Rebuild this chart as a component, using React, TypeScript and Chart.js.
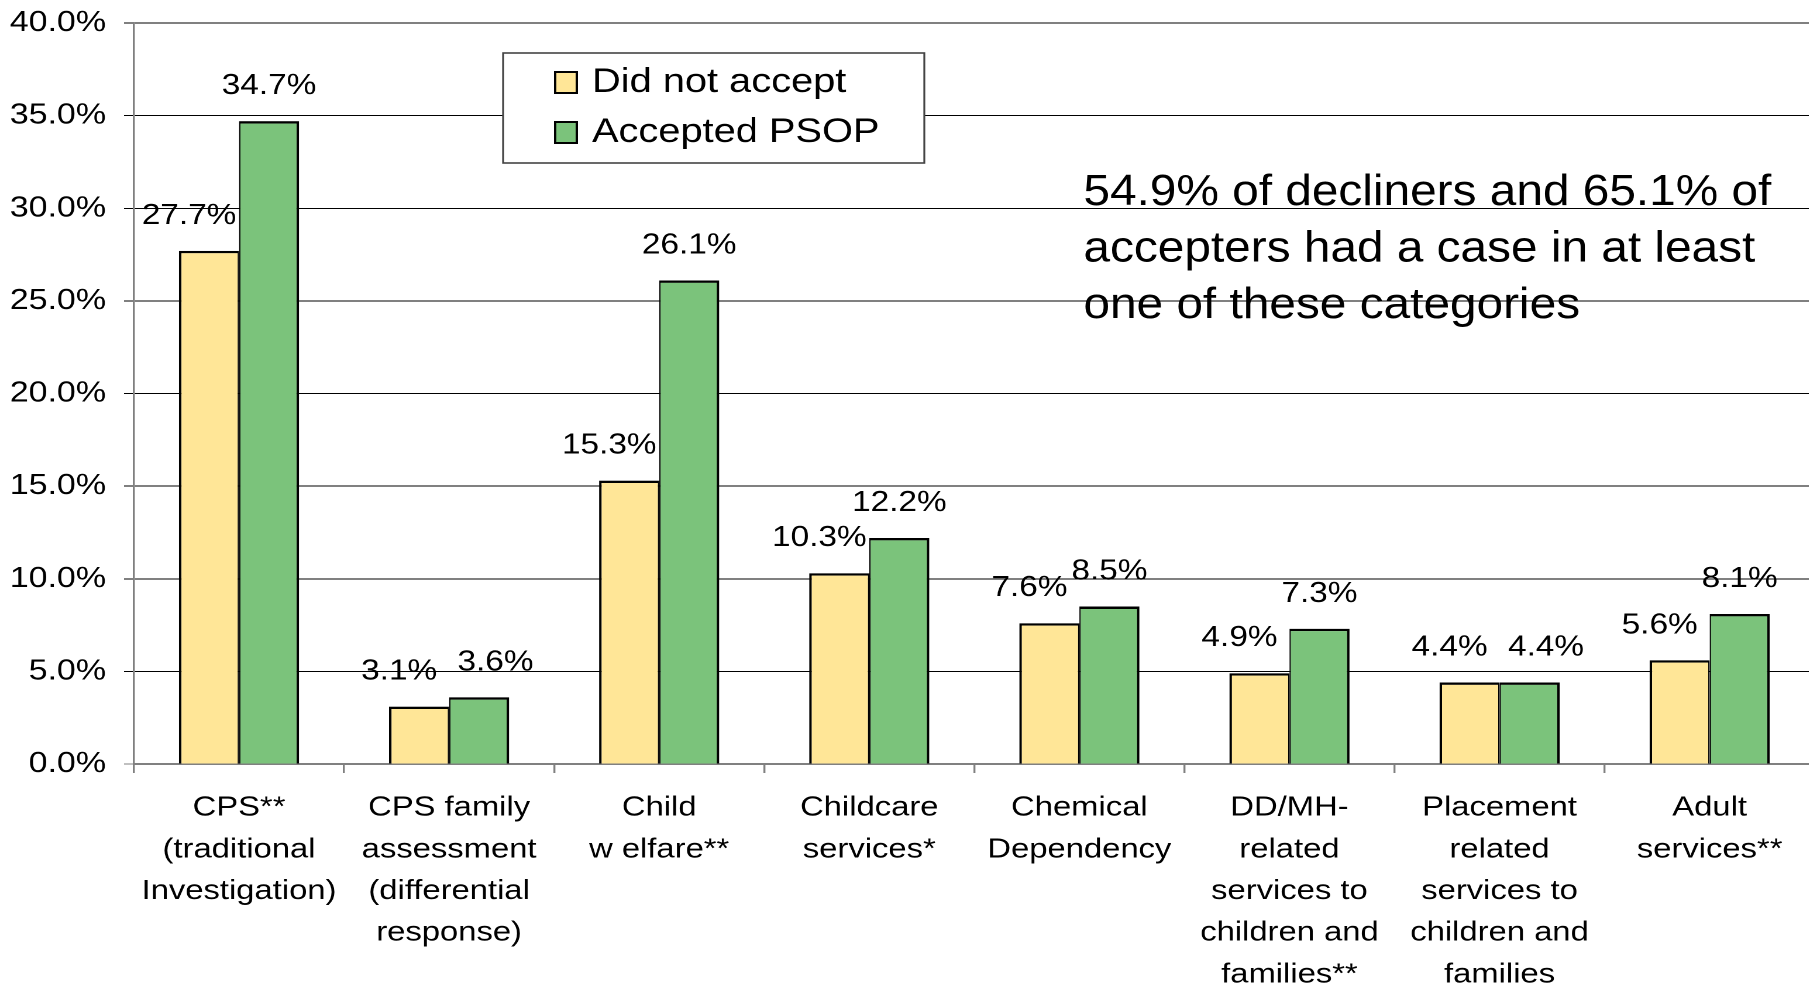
import React, { useEffect, useRef } from "react";
import { Chart, registerables } from "chart.js";

Chart.register(...registerables);

// ---- data ----
const categories: string[][] = [
  ["CPS**", "(traditional", "Investigation)"],
  ["CPS family", "assessment", "(differential", "response)"],
  ["Child", "w elfare**"],
  ["Childcare", "services*"],
  ["Chemical", "Dependency"],
  ["DD/MH-", "related", "services to", "children and", "families**"],
  ["Placement", "related", "services to", "children and", "families"],
  ["Adult", "services**"],
];
const didNotAccept: number[] = [27.7, 3.1, 15.3, 10.3, 7.6, 4.9, 4.4, 5.6];
const acceptedPSOP: number[] = [34.7, 3.6, 26.1, 12.2, 8.5, 7.3, 4.4, 8.1];
const seriesNames: string[] = ["Did not accept", "Accepted PSOP"];
const seriesColors: string[] = ["#FFE697", "#7BC37B"];
const yMin = 0;
const yMax = 40;
const yStep = 5;
const noteLines: string[] = [
  "54.9% of decliners and 65.1% of",
  "accepters had a case in at least",
  "one of these categories",
];

// ---- style ----
const STRETCH = 1.17;
const FONT = '"Liberation Sans", Arial, Helvetica, sans-serif';
const CANVAS_W = 1551;
const CANVAS_H = 1000;

const labelPlugin = {
  id: "valueLabels",
  afterDatasetsDraw(chart: any) {
    const ctx = chart.ctx;
    ctx.save();
    ctx.font = `28.5px ${FONT}`;
    ctx.fillStyle = "#000";
    ctx.textAlign = "center";
    ctx.textBaseline = "alphabetic";
    const a = chart.data.datasets[0].data as number[];
    const b = chart.data.datasets[1].data as number[];
    chart.data.datasets.forEach((ds: any, di: number) => {
      const meta = chart.getDatasetMeta(di);
      meta.data.forEach((el: any, i: number) => {
        const v = ds.data[i] as number;
        let dx = 0;
        if (di === 0) dx = -17;
        else if (Math.abs(a[i] - b[i]) < 0.6) dx = 14;
        ctx.fillText(v.toFixed(1) + "%", el.x + dx, el.y - 27);
      });
    });
    ctx.restore();
  },
};

const overlayPlugin = {
  id: "overlay",
  afterDraw(chart: any) {
    const ctx = chart.ctx;
    ctx.save();
    // legend box
    const bx = 430, by = 53, bw = 360, bh = 110;
    ctx.fillStyle = "#fff";
    ctx.fillRect(bx, by, bw, bh);
    ctx.strokeStyle = "#444";
    ctx.lineWidth = 1.6;
    ctx.strokeRect(bx, by, bw, bh);
    ctx.font = `34px ${FONT}`;
    ctx.textAlign = "left";
    ctx.textBaseline = "alphabetic";
    chart.data.datasets.forEach((ds: any, i: number) => {
      const sy = 72 + i * 50;
      ctx.fillStyle = ds.backgroundColor;
      ctx.fillRect(474.5, sy, 18.5, 21);
      ctx.strokeStyle = "#000";
      ctx.lineWidth = 2;
      ctx.strokeRect(474.5, sy, 18.5, 21);
      ctx.fillStyle = "#000";
      ctx.fillText(ds.label, 506, 92 + i * 50);
    });
    // annotation
    ctx.translate(926, 0);
    ctx.scale(0.928, 1);
    ctx.font = `44px ${FONT}`;
    ctx.fillStyle = "#000";
    noteLines.forEach((line, i) => {
      ctx.fillText(line, 0, 205 + i * 56.5);
    });
    ctx.restore();
  },
};

export default function App() {
  const ref = useRef<HTMLCanvasElement | null>(null);

  useEffect(() => {
    if (!ref.current) return;
    const ticks: number[] = [];
    for (let v = yMin; v <= yMax; v += yStep) ticks.push(v);
    const chart = new Chart(ref.current, {
      type: "bar",
      data: {
        labels: categories,
        datasets: [
          {
            label: seriesNames[0],
            data: didNotAccept,
            backgroundColor: seriesColors[0],
            borderColor: "#000",
            borderWidth: { top: 2.4, left: 2.2, right: 1.2, bottom: 0 } as any,
            borderSkipped: false,
            categoryPercentage: 0.572,
            barPercentage: 1,
          },
          {
            label: seriesNames[1],
            data: acceptedPSOP,
            backgroundColor: seriesColors[1],
            borderColor: "#000",
            borderWidth: { top: 2.4, left: 1.2, right: 2.2, bottom: 0 } as any,
            borderSkipped: false,
            categoryPercentage: 0.572,
            barPercentage: 1,
          },
        ],
      },
      options: {
        animation: false,
        responsive: true,
        maintainAspectRatio: false,
        devicePixelRatio: 2,
        layout: { padding: { top: 23, left: 0, right: 0, bottom: 0 } },
        plugins: {
          legend: { display: false },
          tooltip: { enabled: false },
        },
        scales: {
          x: {
            grid: {
              offset: true,
              drawOnChartArea: false,
              drawTicks: true,
              tickLength: 9,
              color: "#808080",
              lineWidth: 1.7,
            },
            border: { display: true, color: "#808080", width: 2 },
            ticks: {
              color: "#000",
              padding: 14,
              maxRotation: 0,
              autoSkip: false,
              font: { family: FONT, size: 28, lineHeight: 1.49 },
            },
            afterFit(s: any) {
              s.height = CANVAS_H - 764;
            },
          },
          y: {
            min: yMin,
            max: yMax,
            afterBuildTicks(s: any) {
              s.ticks = ticks.map((v) => ({ value: v }));
            },
            grid: {
              drawTicks: true,
              tickLength: 8.5,
              color: (c: any) => (c.tick && (c.tick.value === yMax || c.tick.value === yMin) ? "#808080" : "#000"),
              lineWidth: (c: any) => (c.tick && c.tick.value === yMax ? 2 : 1),
            },
            border: { display: true, color: "#808080", width: 1.7 },
            ticks: {
              color: "#000",
              padding: 15.4,
              font: { family: FONT, size: 29 },
              callback: (v: any) => Number(v).toFixed(1) + "%",
            },
            afterFit(s: any) {
              s.width = 114.5;
              s.paddingTop = 0;
              s.paddingBottom = 0;
            },
          },
        },
      },
      plugins: [labelPlugin, overlayPlugin],
    });
    return () => chart.destroy();
  }, []);

  return (
    <div
      style={{
        position: "absolute",
        left: 0,
        top: 0,
        width: 1809,
        height: 985,
        overflow: "hidden",
        background: "#fff",
      }}
    >
      <div
        style={{
          width: CANVAS_W,
          height: CANVAS_H,
          transform: `scaleX(${STRETCH})`,
          transformOrigin: "0 0",
        }}
      >
        <canvas ref={ref} />
      </div>
    </div>
  );
}
